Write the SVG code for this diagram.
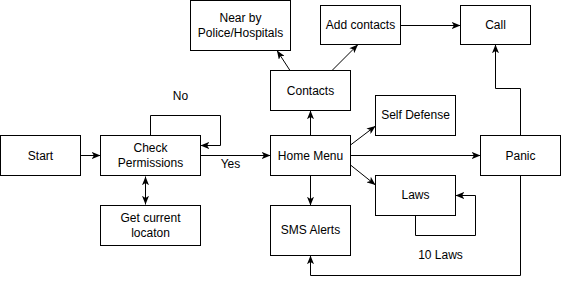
<svg xmlns="http://www.w3.org/2000/svg" width="561" height="284" viewBox="0 0 561 284">
  <style>
    .box { fill: #ffffff; stroke: #000000; stroke-width: 1; }
    .lbl { font-family: "Liberation Sans", Arial, sans-serif; font-size: 12px; fill: #000000; text-anchor: middle; }
    .edge { fill: none; stroke: #000000; stroke-width: 1; }
    .arr { marker-end: url(#head); }
    .both { marker-start: url(#head); marker-end: url(#head); }
  </style>
  <defs>
    <marker id="head" viewBox="0 0 10 8" markerWidth="9" markerHeight="7" refX="10" refY="4" orient="auto-start-reverse" markerUnits="userSpaceOnUse">
      <path d="M0,0 L10,4 L0,8 L2.5,4 Z" fill="#000000"/>
    </marker>
  </defs>
  <rect width="561" height="284" fill="#ffffff"/>

  <g id="connectors">
    <line class="edge arr" x1="80.5" y1="155.5" x2="100.5" y2="155.5"/>
    <path class="edge arr" d="M150.5,135.5 V115.5 H220.5 V145.5 H200.5"/>
    <line class="edge both" x1="145.5" y1="176.5" x2="145.5" y2="204.5"/>
    <line class="edge arr" x1="200.5" y1="155.5" x2="270.5" y2="155.5"/>
    <line class="edge arr" x1="310.5" y1="135.5" x2="310.5" y2="110.5"/>
    <line class="edge arr" x1="310.5" y1="175.5" x2="310.5" y2="205.5"/>
    <line class="edge arr" x1="290" y1="70.5" x2="277" y2="50.5"/>
    <line class="edge arr" x1="332" y1="70.5" x2="358" y2="44.5"/>
    <line class="edge arr" x1="400.5" y1="25.5" x2="460.5" y2="25.5"/>
    <line class="edge arr" x1="350.5" y1="145" x2="375.5" y2="126"/>
    <line class="edge arr" x1="350.5" y1="165" x2="375.5" y2="185"/>
    <line class="edge arr" x1="350.5" y1="155.5" x2="480.5" y2="155.5"/>
    <path class="edge arr" d="M415.5,215.5 V235.5 H475.5 V195.5 H455.5"/>
    <path class="edge arr" d="M520.5,135.5 V88.5 H495.5 V44.5"/>
    <path class="edge arr" d="M520.5,175.5 V275.5 H310.5 V255.5"/>
  </g>

  <g id="start">
    <rect class="box" x="0.5" y="135.5" width="80" height="40"/>
    <text class="lbl" x="40.5" y="159.5">Start</text>
  </g>
  <g id="check-permissions">
    <rect class="box" x="100.5" y="135.5" width="100" height="40"/>
    <text class="lbl" x="150.5" y="152">Check</text>
    <text class="lbl" x="150.5" y="166.5">Permissions</text>
  </g>
  <g id="get-location">
    <rect class="box" x="100.5" y="205.5" width="100" height="40"/>
    <text class="lbl" x="150.5" y="221.5">Get current</text>
    <text class="lbl" x="150.5" y="236.5">locaton</text>
  </g>
  <g id="home-menu">
    <rect class="box" x="270.5" y="135.5" width="80" height="40"/>
    <text class="lbl" x="310.5" y="159.5">Home Menu</text>
  </g>
  <g id="contacts">
    <rect class="box" x="270.5" y="70.5" width="80" height="40"/>
    <text class="lbl" x="310.5" y="94.5">Contacts</text>
  </g>
  <g id="nearby">
    <rect class="box" x="190.5" y="0.5" width="100" height="50"/>
    <text class="lbl" x="240.5" y="22">Near by</text>
    <text class="lbl" x="240.5" y="37">Police/Hospitals</text>
  </g>
  <g id="add-contacts">
    <rect class="box" x="320.5" y="5.5" width="80" height="39"/>
    <text class="lbl" x="360.5" y="29">Add contacts</text>
  </g>
  <g id="call">
    <rect class="box" x="460.5" y="5.5" width="70" height="39"/>
    <text class="lbl" x="495.5" y="29">Call</text>
  </g>
  <g id="self-defense">
    <rect class="box" x="375.5" y="95.5" width="80" height="40"/>
    <text class="lbl" x="415.5" y="119">Self Defense</text>
  </g>
  <g id="laws">
    <rect class="box" x="375.5" y="175.5" width="80" height="40"/>
    <text class="lbl" x="415.5" y="199">Laws</text>
  </g>
  <g id="sms-alerts">
    <rect class="box" x="270.5" y="205.5" width="80" height="50"/>
    <text class="lbl" x="310.5" y="234">SMS Alerts</text>
  </g>
  <g id="panic">
    <rect class="box" x="480.5" y="135.5" width="80" height="40"/>
    <text class="lbl" x="520.5" y="159.5">Panic</text>
  </g>

  <g id="edge-labels">
    <text class="lbl" x="180.5" y="100">No</text>
    <text class="lbl" x="230.5" y="168">Yes</text>
    <text class="lbl" x="440.5" y="259">10 Laws</text>
  </g>
</svg>
